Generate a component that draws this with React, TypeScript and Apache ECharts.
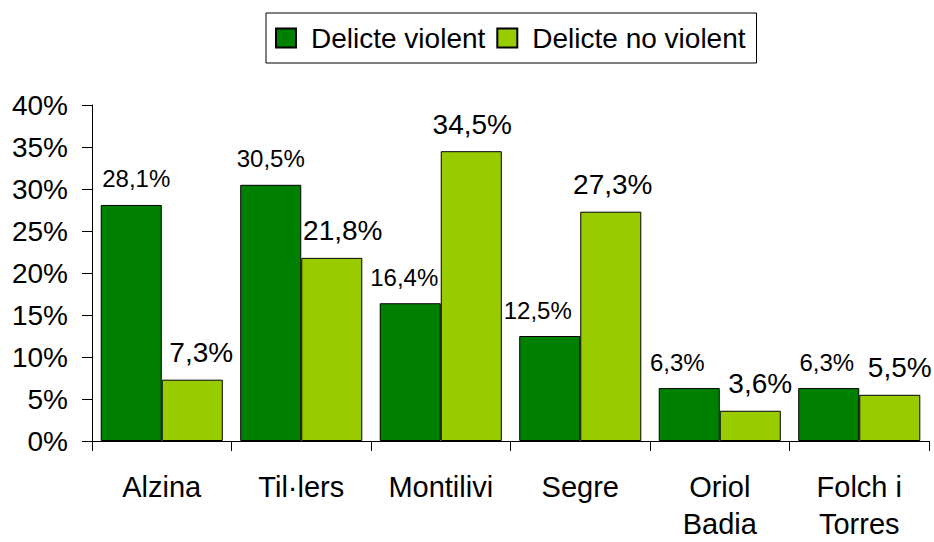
import React, { useEffect, useRef } from "react";
import * as echarts from "echarts";

const categories = ["Alzina", "Til·lers", "Montilivi", "Segre", "Oriol\nBadia", "Folch i\nTorres"];
const seriesNames = ["Delicte violent", "Delicte no violent"];
const violent = [28.1, 30.5, 16.4, 12.5, 6.3, 6.3];
const nonViolent = [7.3, 21.8, 34.5, 27.3, 3.6, 5.5];
const yTicks = { min: 0, max: 40, interval: 5 };

// label horizontal nudges (styling)
const violentLabelShift = [5, 0, -6, -12, -12, -2];
const nonViolentLabelShift = [9, 11, 1, 2, 10, 10];

const FONT = "'Liberation Sans', Arial, sans-serif";
const fmt = (v: number) => v.toFixed(1).replace(".", ",") + "%";

export default function App() {
  const ref = useRef<HTMLDivElement>(null);
  useEffect(() => {
    if (!ref.current) return;
    const chart = echarts.init(ref.current, undefined, { renderer: "svg" });
    chart.setOption({
      animation: false,
      textStyle: { fontFamily: FONT, color: "#000" },
      legend: {
        left: 266,
        top: 13,
        borderColor: "#000",
        borderWidth: 1,
        padding: [11, 11, 11, 9],
        itemWidth: 20,
        itemHeight: 19,
        itemGap: 11,
        icon: "rect",
        textStyle: { fontFamily: FONT, fontSize: 28, color: "#000", padding: [0, 0, 0, 10] },
        data: seriesNames,
      },
      grid: { left: 92, width: 837, top: 105, height: 341 },
      xAxis: {
        type: "category",
        data: categories,
        axisLine: { lineStyle: { color: "#000", width: 1 } },
        axisTick: { show: true, length: 10, lineStyle: { color: "#000" } },
        axisLabel: {
          fontFamily: FONT,
          fontSize: 29,
          color: "#000",
          margin: 27,
          lineHeight: 37,
          interval: 0,
        },
      },
      yAxis: {
        type: "value",
        min: yTicks.min,
        max: yTicks.max,
        interval: yTicks.interval,
        splitLine: { show: false },
        axisLine: { show: true, lineStyle: { color: "#000", width: 1 } },
        axisTick: { show: true, length: 10, lineStyle: { color: "#000" } },
        axisLabel: {
          fontFamily: FONT,
          fontSize: 28,
          color: "#000",
          margin: 24,
          padding: [4, 0, 0, 0],
          formatter: "{value}%",
        },
      },
      series: [
        {
          name: seriesNames[0],
          type: "bar",
          barGap: "0%",
          barCategoryGap: "12.5%",
          itemStyle: { color: "#008000", borderColor: "#000", borderWidth: 1 },
          label: {
            show: true,
            position: "top",
            distance: 14,
            fontFamily: FONT,
            fontSize: 24,
            color: "#000",
            formatter: (p: any) => fmt(p.value),
          },
          data: violent.map((v, i) => ({ value: v, label: { offset: [violentLabelShift[i], 0] } })),
        },
        {
          name: seriesNames[1],
          type: "bar",
          barGap: "0%",
          barCategoryGap: "12.5%",
          itemStyle: { color: "#99CC00", borderColor: "#000", borderWidth: 1 },
          label: {
            show: true,
            position: "top",
            distance: 13,
            fontFamily: FONT,
            fontSize: 28,
            color: "#000",
            formatter: (p: any) => fmt(p.value),
          },
          data: nonViolent.map((v, i) => ({ value: v, label: { offset: [nonViolentLabelShift[i], 0] } })),
        },
      ],
    });
    return () => chart.dispose();
  }, []);
  return <div ref={ref} style={{ width: 934, height: 542, position: "absolute", left: 0, top: 0 }} />;
}
